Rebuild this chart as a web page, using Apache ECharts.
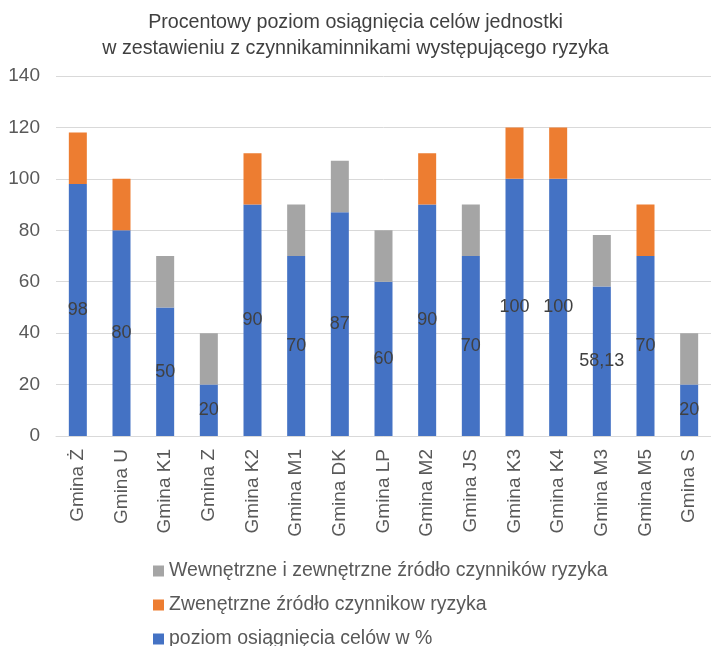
<!DOCTYPE html>
<html>
<head>
<meta charset="utf-8">
<script src="https://cdn.jsdelivr.net/npm/echarts@6/dist/echarts.min.js"></script>
<style>
    html, body { margin: 0; padding: 0; background: #fff; }
    #chart { width: 711px; height: 646px; }
</style>
</head>
<body>
<div id="chart"></div>
<script>
var categories = ['Gmina Ż', 'Gmina U', 'Gmina K1', 'Gmina Z', 'Gmina K2', 'Gmina M1', 'Gmina DK', 'Gmina LP',
    'Gmina M2', 'Gmina JS', 'Gmina K3', 'Gmina K4', 'Gmina M3', 'Gmina M5', 'Gmina S'];
// poziom osiągnięcia celów w %
var poziom = [98, 80, 50, 20, 90, 70, 87, 60, 90, 70, 100, 100, 58.13, 70, 20];
// zewnętrzne źródło
var zewnetrzne = [20, 20, '-', '-', 20, '-', '-', '-', 20, '-', 20, 20, '-', 20, '-'];
// wewnętrzne i zewnętrzne źródło
var wewnetrzne = ['-', '-', 20, 20, '-', 20, 20, 20, '-', 20, '-', '-', 20, '-', 20];
var yTicks = [0, 20, 40, 60, 80, 100, 120, 140];

var names = ['poziom osiągnięcia celów w %', 'Zwenętrzne źródło czynnikow ryzyka',
    'Wewnętrzne i zewnętrzne źródło czynników ryzyka'];

var myChart = echarts.init(document.getElementById('chart'));
var option = {
    animation: false,
    textStyle: { fontFamily: 'Liberation Sans, Arial, sans-serif' },
    title: {
        left: 'center',
        top: 5,
        text: 'Procentowy poziom osiągnięcia celów jednostki\nw zestawieniu z czynnikaminnikami występującego ryzyka',
        textStyle: {
            fontSize: 19.7,
            fontWeight: 'normal',
            color: '#404040',
            lineHeight: 26
        }
    },
    legend: {
        orient: 'vertical',
        left: 153,
        top: 561,
        height: 120,
        padding: 0,
        itemWidth: 11,
        itemHeight: 11,
        itemGap: 14,
        icon: 'rect',
        data: [names[2], names[1], names[0]],
        textStyle: { fontSize: 19.5, lineHeight: 19, color: '#595959' }
    },
    grid: {
        left: 56,
        top: 76,
        width: 660,
        height: 360
    },
    xAxis: {
        type: 'category',
        data: categories,
        axisTick: { show: false },
        axisLine: { lineStyle: { color: '#D9D9D9', width: 1 } },
        axisLabel: {
            rotate: 90,
            fontSize: 19,
            color: '#595959',
            margin: 13,
            interval: 0
        }
    },
    yAxis: {
        type: 'value',
        min: yTicks[0],
        max: yTicks[yTicks.length - 1],
        interval: 20,
        axisLine: { show: false },
        axisTick: { show: false },
        axisLabel: { fontSize: 19, color: '#595959', margin: 16 },
        splitLine: { lineStyle: { color: '#D9D9D9', width: 1 } }
    },
    series: [
        {
            name: names[0],
            type: 'bar',
            stack: 'a',
            barWidth: 18,
            itemStyle: { color: '#4472C4' },
            label: {
                show: true,
                position: 'inside',
                fontSize: 18,
                color: '#404040',
                formatter: function (p) {
                    return String(p.value).replace('.', ',');
                }
            },
            data: poziom
        },
        {
            name: names[1],
            type: 'bar',
            stack: 'a',
            barWidth: 18,
            itemStyle: { color: '#ED7D31' },
            data: zewnetrzne
        },
        {
            name: names[2],
            type: 'bar',
            stack: 'a',
            barWidth: 18,
            itemStyle: { color: '#A5A5A5' },
            data: wewnetrzne
        }
    ]
};
myChart.setOption(option);
</script>
</body>
</html>
